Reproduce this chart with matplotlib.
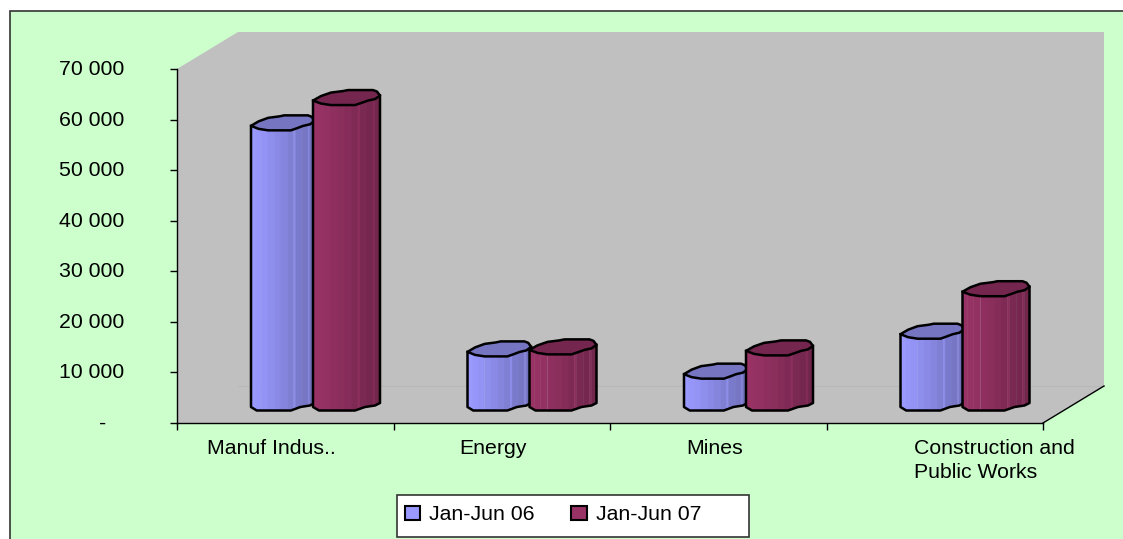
import numpy as np
import matplotlib
matplotlib.use('Agg')
import matplotlib.pyplot as plt
from matplotlib.colors import to_rgb
from matplotlib.patches import Patch, Polygon, Rectangle
from matplotlib.transforms import ScaledTranslation

plt.rcParams['font.family'] = ['Liberation Sans', 'DejaVu Sans']

# Values in the chart's own units
categories = ['Manuf Indus..', 'Energy', 'Mines', 'Construction and\nPublic Works']
jan_jun_06 = [55200, 10500, 6100, 14000]
jan_jun_07 = [60200, 10900, 10700, 22400]
series_names = ['Jan-Jun 06', 'Jan-Jun 07']
y_ticks = [0, 10000, 20000, 30000, 40000, 50000, 60000, 70000]
y_tick_labels = ['-', '10 000', '20 000', '30 000', '40 000', '50 000', '60 000', '70 000']

W, H = 1123, 539
FONT = 15.3
GREEN = '#CCFFCC'
WALL = '#C0C0C0'

# front plane of the fake 3D box, in pixels
AX_L, AX_R, AX_T, AX_B = 177, 1043, 69, 423
DEPTH_X, DEPTH_Y = 61, 37

fig = plt.figure(figsize=(W / 100, H / 100), dpi=100, facecolor='white')

# green panel, runs off the right and bottom so only top and left edges show
fig.patches.append(Rectangle((9.5 / W, -0.05), 1.1, 1.05 - 10.5 / H, transform=fig.transFigure,
                             facecolor=GREEN, edgecolor='#333333', linewidth=1.2, zorder=-1))

ax = fig.add_axes([AX_L / W, 1 - AX_B / H, (AX_R - AX_L) / W, (AX_B - AX_T) / H])
ax.set_xlim(0, len(categories))
ax.set_ylim(0, 70000)
ax.patch.set_alpha(0)

# pixels to data units
px_x = len(categories) / (AX_R - AX_L)
px_y = 70000 / (AX_B - AX_T)
dx, dy = DEPTH_X * px_x, DEPTH_Y * px_y
x_max = len(categories)

# walls and floor
box = [(0, 0), (0, 70000), (dx, 70000 + dy), (x_max + dx, 70000 + dy), (x_max + dx, dy), (x_max, 0)]
ax.add_patch(Polygon(box, closed=True, facecolor=WALL, edgecolor='none', clip_on=False, zorder=0))
ax.plot([dx, x_max + dx], [dy, dy], color='#B6B6B6', lw=0.6, clip_on=False, zorder=1)
ax.plot([x_max, x_max + dx], [0, dy], color='black', lw=1.0, clip_on=False, zorder=1)

# column outline, pixels from its left point (y up is negative)
top_u = np.array([0, 8, 18, 42, 48, 55, 62, 67])
top_v = np.array([0, 3, 4.5, 4.5, 2.5, 0, -1.5, -5])
bottom_u = np.array([0, 6, 42, 52, 62, 67])
bottom_v = np.array([2, 5.5, 5.5, 2, 0.5, -2])
back_u = np.array([67, 64, 60, 35, 30, 18, 8, 0])
back_v = np.array([-5, -9, -10.5, -10.5, -9.5, -8, -4.5, 0])

strip_edges = np.array([0, 5, 11, 18, 25, 32, 39, 45, 47, 54, 60, 62, 67])
strip_shades = [1.0, 0.98, 0.96, 0.93, 0.90, 0.87, 0.83, 0.92, 0.80, 0.77, 0.86, 0.74]

BAR_BASE_Y = 405
BAR_SETBACK = (AX_B - BAR_BASE_Y) * px_y


def draw_column(left_x, value, color, top_color, z, scale=1.0):
    base = BAR_SETBACK
    top = base + value
    rgb = np.array(to_rgb(color))
    for i, shade in enumerate(strip_shades):
        u = np.array([strip_edges[i], strip_edges[i + 1]])
        xs = left_x + u * scale * px_x
        y_low = base - np.interp(u, bottom_u, bottom_v) * px_y
        y_high = top - np.interp(u, top_u, top_v) * px_y
        ax.fill([xs[0], xs[1], xs[1], xs[0]], [y_low[0], y_low[1], y_high[1], y_high[0]],
                color=rgb * shade, lw=0.3, clip_on=False, zorder=z)
    # outline of the body
    outline_x = np.r_[left_x, left_x + bottom_u * scale * px_x, left_x + top_u[-1] * scale * px_x]
    outline_y = np.r_[top, base - bottom_v * px_y, top - top_v[-1] * px_y]
    ax.plot(outline_x, outline_y, color='black', lw=1.8, clip_on=False, zorder=z + 0.2,
            solid_joinstyle='round')
    # lid
    lid_u = np.r_[top_u, back_u[1:]]
    lid_v = np.r_[top_v, back_v[1:]]
    ax.add_patch(Polygon(np.c_[left_x + lid_u * scale * px_x, top - lid_v * px_y], closed=True,
                         facecolor=top_color, edgecolor='black', linewidth=1.8,
                         clip_on=False, zorder=z + 0.1, joinstyle='round'))


# offsets of the two columns inside a category, in pixels
OFFSET_06, OFFSET_07 = 74, 136
for i in range(len(categories)):
    draw_column(i + OFFSET_06 * px_x, jan_jun_06[i], '#9999FF', '#7575C2', 3, scale=0.95)
    draw_column(i + OFFSET_07 * px_x, jan_jun_07[i], '#993366', '#74264F', 4)

# axes
for side in ['top', 'right']:
    ax.spines[side].set_visible(False)
for side in ['left', 'bottom']:
    ax.spines[side].set_linewidth(1.0)
    ax.spines[side].set_zorder(2)
ax.set_yticks(y_ticks)
ax.set_yticklabels(y_tick_labels, fontsize=FONT, color='black')
ax.tick_params(axis='y', length=5, width=1.0, pad=33)
# labels sit a little above their ticks, the dash is indented like an accounting format
for label, text in zip(ax.get_yticklabels(), y_tick_labels):
    shift_x = -18 / 100 if text == '-' else 0
    label.set_transform(label.get_transform() + ScaledTranslation(shift_x, 1.5 / 100, fig.dpi_scale_trans))
ax.set_xticks(range(len(categories) + 1))
ax.set_xticklabels([])
ax.tick_params(axis='x', length=5, width=1.0)

# category labels sit off centre, the long one is left aligned
label_x = [271, 493, 714.5, 914]
label_ha = ['center', 'center', 'center', 'left']
for name, x, ha in zip(categories, label_x, label_ha):
    fig.text(x / W, 1 - 438.5 / H, name, ha=ha, va='top', fontsize=FONT, color='black',
             linespacing=1.36)

# legend
fig.patches.append(Rectangle((397 / W, 1 - 536.5 / H), 352 / W, 42 / H, transform=fig.transFigure,
                             facecolor='white', edgecolor='#333333', linewidth=1.2, zorder=1))
handles = [Patch(facecolor='#9999FF', edgecolor='black', linewidth=1.5),
           Patch(facecolor='#993366', edgecolor='black', linewidth=1.5)]
fig.legend(handles, series_names, loc='center left', bbox_to_anchor=(405 / W, 1 - 515 / H),
           ncol=2, frameon=False, fontsize=FONT, handlelength=0.72, handleheight=0.68,
           handletextpad=0.42, columnspacing=1.72, borderpad=0, borderaxespad=0, labelcolor='black')

fig.savefig('out.png', dpi=100, facecolor=fig.get_facecolor())
